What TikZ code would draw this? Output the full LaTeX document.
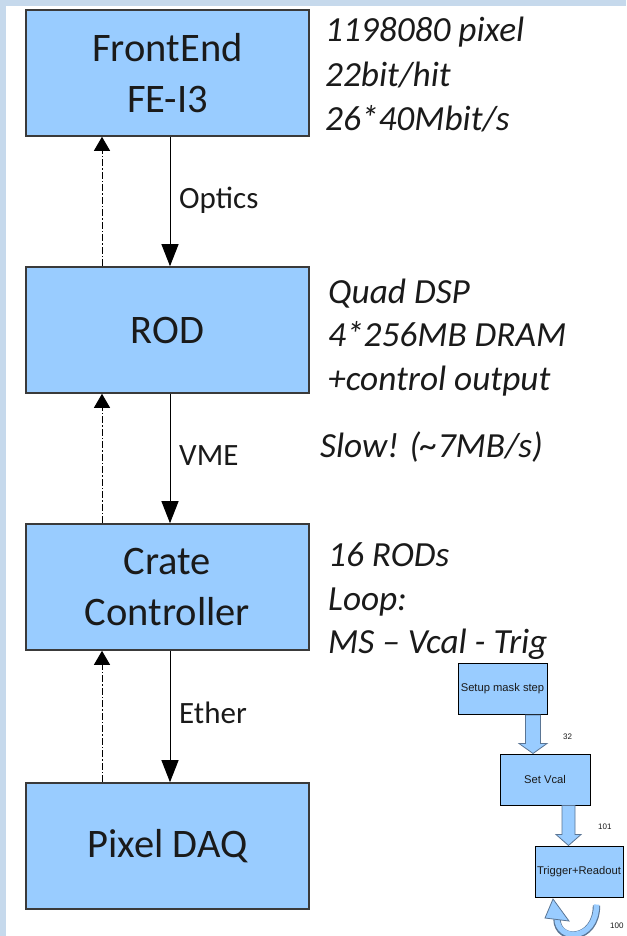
\documentclass[tikz,border=0pt]{standalone}
\usepackage{fontspec}
\setmainfont{Carlito}
\newfontfamily\smallsans{Liberation Sans}
\usetikzlibrary{arrows.meta,calc}
\definecolor{framebg}{HTML}{C6D9EC}
\definecolor{boxblue}{HTML}{99CCFF}
\definecolor{ink}{HTML}{1A1A1A}
\definecolor{edgegray}{HTML}{3A3A3A}
\definecolor{blockedge}{HTML}{5A7594}
\begin{document}
\begin{tikzpicture}[x=1pt,y=-1pt,
  stage/.style={draw=edgegray, line width=1.6pt, fill=boxblue,
    minimum width=283pt, minimum height=126pt, inner sep=0pt, align=center,
    text=ink, font=\fontsize{40.5}{51}\selectfont},
  note/.style={anchor=base west, inner sep=0pt, text=ink,
    font=\fontsize{35.3}{40}\selectfont\itshape},
  linklabel/.style={anchor=base west, inner sep=0pt, text=ink,
    font=\fontsize{31}{36}\selectfont},
  down/.style={draw=black, line width=1pt,
    -{Triangle[width=17pt,length=22pt]}},
  back/.style={draw=black, line width=1pt,
    dash pattern=on 7pt off 2pt on 1.5pt off 2pt,
    -{Triangle[width=16pt,length=14pt]}},
  mini/.style={draw=black, line width=1pt, fill=boxblue, inner sep=0pt,
    minimum height=51pt, text=ink, font=\smallsans\fontsize{11.2}{13}\selectfont},
  count/.style={anchor=base west, inner sep=0pt, text=ink,
    font=\smallsans\fontsize{8}{10}\selectfont},
  blockarrow/.style={fill=boxblue, draw=blockedge, line width=0.8pt, line join=miter}
]
\useasboundingbox (0,0) rectangle (626,936);
% page frame
\fill[framebg] (0,0) rectangle (626,936);
\fill[white] (6,6) rectangle (626,936);

% main chain
\node[stage] (fe)    at (167.5,73)  {FrontEnd\\FE-I3};
\node[stage] (rod)   at (167.5,330) {ROD};
\node[stage] (crate) at (167.5,587) {Crate\\Controller};
\node[stage] (daq)   at (167.5,846) {Pixel DAQ};

\coordinate (dn) at (170,0);
\coordinate (up) at (102,0);
\draw[down] (fe.south -| dn) -- (rod.north -| dn);
\draw[down] (rod.south -| dn) -- (crate.north -| dn);
\draw[down] (crate.south -| dn) -- (daq.north -| dn);
\draw[back] (rod.north -| up) -- (fe.south -| up);
\draw[back] (crate.north -| up) -- (rod.south -| up);
\draw[back] (daq.north -| up) -- (crate.south -| up);

\node[linklabel] (lopt) at (179,208) {Optics};
\node[linklabel] (lvme) at (179,465) {VME};
\node[linklabel] (leth) at (179,723) {Ether};

% notes beside the boxes
\node[note] (n1) at (325,42)  {1198080 pixel};
\node[note] (n2) at (325,87)  {22bit/hit};
\node[note] (n3) at (325,131) {26*40Mbit/s};
\node[note] (n4) at (328,303) {Quad DSP};
\node[note] (n5) at (328,346) {4*256MB DRAM};
\node[note] (n6) at (328,390) {+control output};
\node[note] (n7) at (320,457) {Slow! (\textasciitilde 7MB/s)};
\node[note] (n8) at (328,566) {16 RODs};
\node[note] (n9) at (328,610) {Loop:};
\node[note] (n10) at (328,653) {MS -- Vcal - Trig};

% scan loop
\node[mini, minimum width=89pt] (s1) at (502.5,689)   {Setup mask step};
\node[mini, minimum width=90pt] (s2) at (545,779.5)   {Set Vcal};
\node[mini, minimum width=88pt] (s3) at (579,871.5)   {Trigger+Readout};

\coordinate (a1) at (533,0);
\coordinate (a2) at (568.5,0);
\filldraw[blockarrow]
  ($(s1.south -| a1)+(-7.5,0)$) -- ($(s2.north -| a1)+(-7.5,-10)$)
  -- ($(s2.north -| a1)+(-14,-10)$) -- (s2.north -| a1)
  -- ($(s2.north -| a1)+(14,-10)$) -- ($(s2.north -| a1)+(7.5,-10)$)
  -- ($(s1.south -| a1)+(7.5,0)$) -- cycle;
\filldraw[blockarrow]
  ($(s2.south -| a2)+(-6.5,0)$) -- ($(s3.north -| a2)+(-6.5,-11)$)
  -- ($(s3.north -| a2)+(-12.5,-11)$) -- (s3.north -| a2)
  -- ($(s3.north -| a2)+(12.5,-11)$) -- ($(s3.north -| a2)+(6.5,-11)$)
  -- ($(s2.south -| a2)+(6.5,0)$) -- cycle;
\node[count] (c32)  at (563,739) {32};
\node[count] (c101) at (598,829) {101};

% repeat arrow under the trigger box
\coordinate (loopstart) at ($(s3.south)+(17.5,8)$);
\coordinate (loopend) at (557,919);
\draw[blockedge, line width=7.4pt]
  (loopstart) .. controls +(0,36) and +(0,24) .. (loopend);
\draw[boxblue, line width=5.4pt]
  ($(loopstart)+(0,-1)$) .. controls +(0,37) and +(0,24) .. ($(loopend)+(0,-1)$);
\filldraw[blockarrow] (545,918) -- (553,899) -- (569,921) -- cycle;
\node[count] (c100) at (610,928) {100};
\end{tikzpicture}
\end{document}
